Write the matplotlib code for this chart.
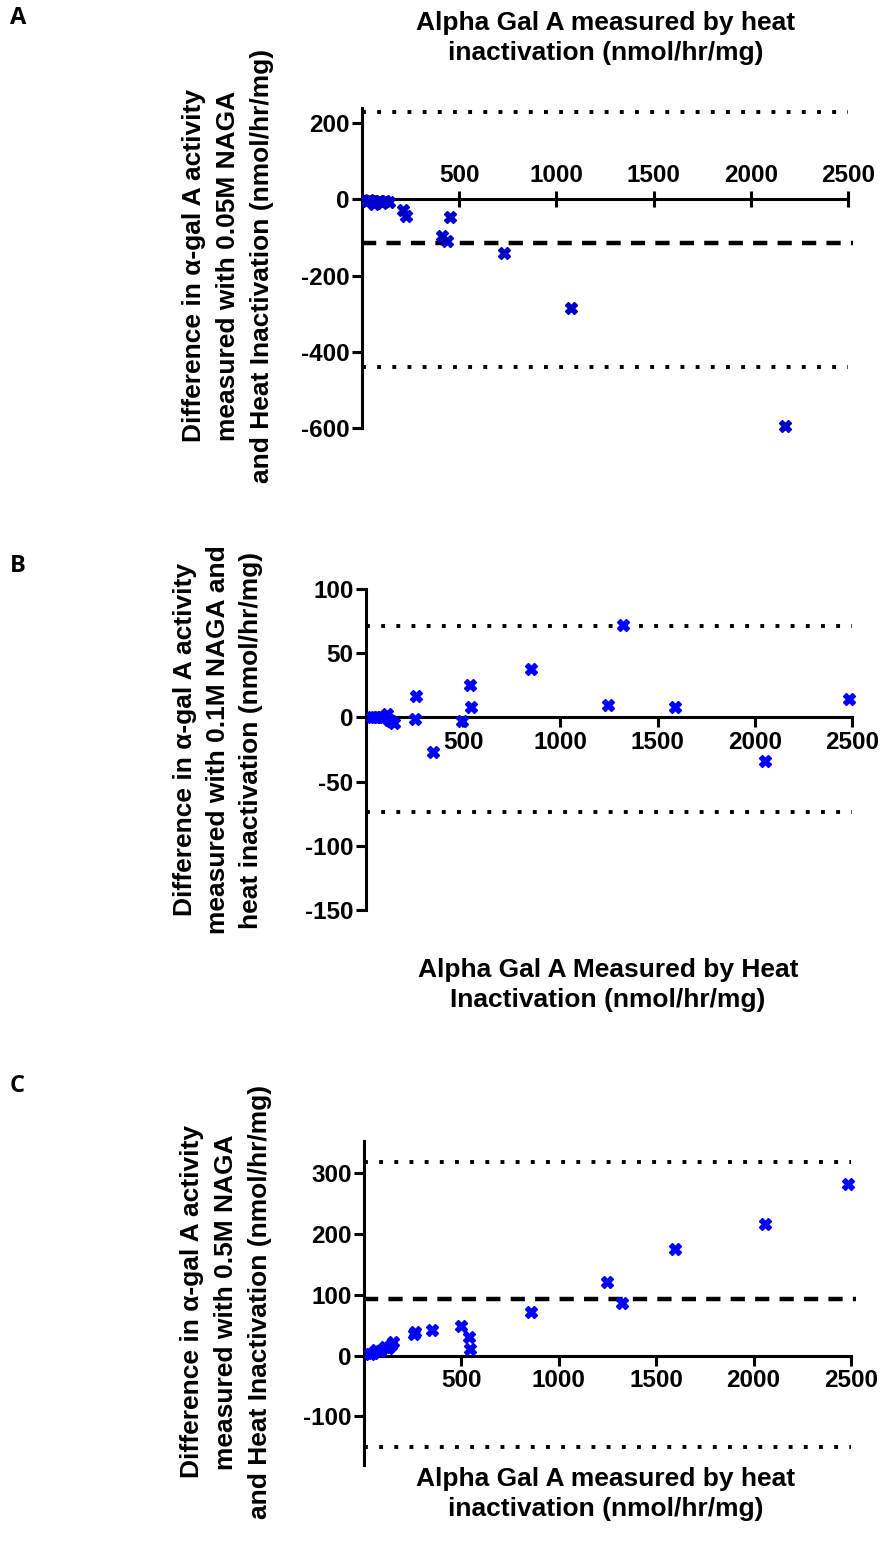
import matplotlib
matplotlib.use("Agg")
import matplotlib.pyplot as plt

plt.rcParams['font.family'] = ['Liberation Sans', 'DejaVu Sans']
plt.rcParams['font.weight'] = 'bold'
plt.rcParams['axes.unicode_minus'] = False

# ---------------- data ----------------
A_x = [25, 35, 45, 55, 60, 70, 85, 95, 105, 120, 140, 213, 225, 414, 437, 454, 728, 1076, 2177]
A_y = [-3, -2, -5, -6, -12, -8, -4, -5, -10, -3, -8, -27, -44, -95, -110, -46, -140, -284, -596]
A_mean, A_upper, A_lower = -114, 230, -439
A_yticks = [200, 0, -200, -400, -600]

B_x = [30, 45, 60, 80, 110, 120, 130, 145, 250, 255, 345, 495, 535, 540, 850, 1245, 1320, 1590, 2055, 2485]
B_y = [0, 0, 0, 0, 3, -2, -3, -4, -1, 17, -27, -3, 25, 8, 38, 10, 72, 8, -34, 14]
B_upper, B_lower = 71, -74
B_yticks = [100, 50, 0, -50, -100, -150]

C_x = [30, 46, 64, 80, 110, 124, 139, 150, 255, 262, 348, 500, 540, 543, 856, 1245, 1327, 1596, 2058, 2487]
C_y = [2, 4, 9, 8, 14, 12, 17, 23, 35, 38, 42, 49, 30, 11, 71, 121, 87, 175, 216, 283]
C_mean, C_upper, C_lower = 93, 318, -150
C_yticks = [300, 200, 100, 0, -100]

x_ticks = [500, 1000, 1500, 2000, 2500]

ylabel_A = "Difference in \u03b1-gal A activity\nmeasured with 0.05M NAGA\nand Heat Inactivation (nmol/hr/mg)"
ylabel_B = "Difference in \u03b1-gal A activity\nmeasured with 0.1M NAGA and\nheat inactivation (nmol/hr/mg)"
ylabel_C = "Difference in \u03b1-gal A activity\nmeasured with 0.5M NAGA\nand Heat Inactivation (nmol/hr/mg)"
xlabel_A = "Alpha Gal A measured by heat\ninactivation (nmol/hr/mg)"
xlabel_B = "Alpha Gal A Measured by Heat\nInactivation (nmol/hr/mg)"
xlabel_C = "Alpha Gal A measured by heat\ninactivation (nmol/hr/mg)"

# ---------------- figure ----------------
W, H = 881, 1555
fig = plt.figure(figsize=(W / 100, H / 100), dpi=100)


def px_axes(left, right, top, bottom):
    return fig.add_axes([left / W, 1 - bottom / H, (right - left) / W, (bottom - top) / H])


FS = 17.5
LFS = 19
LW = 2.2


def style(ax, ylim, yticks, top_axis=False, xdir='out', xlen=7):
    ax.set_xlim(0, 2500)
    ax.set_ylim(*ylim)
    ax.set_yticks(yticks)
    ax.set_xticks(x_ticks)
    ax.spines['right'].set_visible(False)
    if top_axis:
        ax.spines['bottom'].set_visible(False)
        ax.spines['top'].set_position(('data', 0))
        ax.spines['top'].set_linewidth(LW)
        ax.xaxis.tick_top()
    else:
        ax.spines['top'].set_visible(False)
        ax.spines['bottom'].set_position(('data', 0))
        ax.spines['bottom'].set_linewidth(LW)
    ax.spines['left'].set_linewidth(LW)
    ax.tick_params(axis='y', direction='out', length=7, width=LW, labelsize=FS, pad=2)
    ax.tick_params(axis='x', direction=xdir, length=xlen, width=LW, labelsize=FS, pad=3)
    for lab in ax.get_xticklabels() + ax.get_yticklabels():
        lab.set_fontweight('bold')
    ax.patch.set_visible(False)


def hline(ax, y, kind):
    if kind == 'dot':
        ax.axhline(y, color='black', lw=2.8, linestyle=(0, (1, 2.9)), dash_capstyle='butt', clip_on=False, zorder=2)
    else:
        ax.axhline(y, xmax=1.01, color='black', lw=3.2, linestyle=(0, (3.2, 2.3)), dash_capstyle='butt', clip_on=False, zorder=2)


MS = 9

# Panel A
axA = px_axes(362, 848, 108, 428)
style(axA, (-600, 240), A_yticks, top_axis=True, xdir='inout', xlen=12)
hline(axA, A_upper, 'dot')
hline(axA, A_lower, 'dot')
hline(axA, A_mean, 'dash')
axA.plot(A_x, A_y, linestyle='none', marker='X', ms=MS, color='#0000CC', mec='#0000CC', clip_on=False, zorder=4)

# Panel B
axB = px_axes(366, 852, 589, 910)
style(axB, (-150, 100), B_yticks)
hline(axB, B_upper, 'dot')
hline(axB, B_lower, 'dot')
axB.plot(B_x, B_y, linestyle='none', marker='X', ms=MS, color='#0000FF', mec='#0000FF', clip_on=False, zorder=4)

# Panel C
axC = px_axes(364, 851, 1141, 1465)
style(axC, (-180, 353), C_yticks)
hline(axC, C_upper, 'dot')
hline(axC, C_lower, 'dot')
hline(axC, C_mean, 'dash')
axC.plot(C_x, C_y, linestyle='none', marker='X', ms=MS, color='#0000FF', mec='#0000FF', clip_on=False, zorder=4)

# Texts
def ftext(x, y, s, ls=1.35, **kw):
    fig.text(x / W, 1 - y / H, s, fontsize=LFS, fontweight='bold', ha='center', va='center',
             multialignment='center', linespacing=ls, **kw)

ftext(228, 266, ylabel_A, ls=1.5, rotation=90)
ftext(218, 740, ylabel_B, ls=1.45, rotation=90)
ftext(226, 1302, ylabel_C, ls=1.5, rotation=90)
ftext(606, 38, xlabel_A)
ftext(608, 985, xlabel_B)
ftext(606, 1494, xlabel_C)

for lab, y in [('A', 18), ('B', 566), ('C', 1086)]:
    fig.text(10 / W, 1 - y / H, lab, fontsize=17, fontweight='bold', ha='left', va='center',
             family=['Open Sans', 'DejaVu Sans'])

fig.savefig('out.png', dpi=100)
